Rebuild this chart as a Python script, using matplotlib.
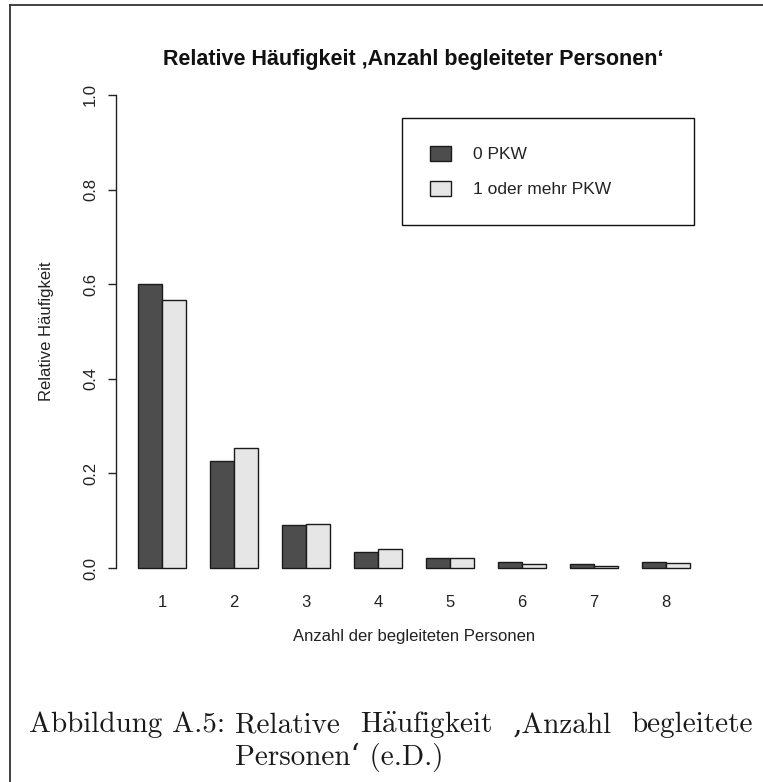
import matplotlib
matplotlib.use("Agg")
import matplotlib.pyplot as plt
from matplotlib.lines import Line2D
import numpy as np

# ---- data ----
categories = ["1", "2", "3", "4", "5", "6", "7", "8"]
pkw0 = [0.600, 0.226, 0.090, 0.033, 0.021, 0.012, 0.008, 0.012]
pkw1 = [0.566, 0.253, 0.094, 0.041, 0.021, 0.008, 0.005, 0.010]
series_names = ["0 PKW", "1 oder mehr PKW"]
yticks = [0.0, 0.2, 0.4, 0.6, 0.8, 1.0]
ytick_labels = ["0.0", "0.2", "0.4", "0.6", "0.8", "1.0"]
title = "Relative Häufigkeit \u201aAnzahl begleiteter Personen\u2018"
xlabel = "Anzahl der begleiteten Personen"
ylabel = "Relative Häufigkeit"
caption_head = "Abbildung A.5:"
caption_words1 = ["Relative", r"H$\ddot{\mathrm{a}}$ufigkeit", "\u201aAnzahl", "begleitete"]
caption_line2 = "Personen\u2018 (e.D.)"

W, H = 763, 782
plt.rcParams['font.family'] = ['Liberation Sans', 'DejaVu Sans']
plt.rcParams['mathtext.fontset'] = 'cm'

fig = plt.figure(figsize=(W / 100, H / 100), dpi=100)
fig.patch.set_facecolor("white")

def fx(x):
    return x / W

def fy(y):
    return 1 - y / H

# axes region in pixels: left 116, right 712, top 76, bottom 587
ax = fig.add_axes([fx(116), fy(587), (712 - 116) / W, (587 - 76) / H])

dark = "#4d4d4d"
light = "#e6e6e6"
n = len(categories)
idx = np.arange(n)
left0 = 1 + 3 * idx
left1 = 2 + 3 * idx
ax.bar(left0, pkw0, width=1, align='edge', color=dark, edgecolor="#1a1a1a",
       linewidth=1.0, label=series_names[0])
ax.bar(left1, pkw1, width=1, align='edge', color=light, edgecolor="#1a1a1a",
       linewidth=1.0, label=series_names[1])

ax.set_xlim(0.08, 24.92)
ax.set_ylim(-0.04, 1.04)

for s in ["top", "right", "bottom"]:
    ax.spines[s].set_visible(False)
ax.spines["left"].set_bounds(0, 1)
ax.spines["left"].set_linewidth(1.0)
ax.spines["left"].set_color("#222222")

ax.set_yticks(yticks)
ax.set_yticklabels(ytick_labels, rotation=90, va="center", fontsize=12, color="#222222")
ax.tick_params(axis="y", length=6, width=1.0, color="#222222", pad=7)

ax.set_xticks(2 + 3 * idx)
ax.set_xticklabels(categories, fontsize=12, color="#222222")
ax.tick_params(axis="x", length=0, pad=6)

ax.set_xlabel(xlabel, fontsize=12, color="#222222")
ax.xaxis.label.set_va("center")
ax.xaxis.set_label_coords(0.5, (587 - 637) / 511)
ax.set_ylabel(ylabel, fontsize=12, color="#222222")
ax.yaxis.label.set_va("center")
ax.yaxis.label.set_ha("center")
ax.yaxis.set_label_coords((47 - 116) / 596, 0.5)

fig.text(fx(413), fy(59), title, fontsize=15.5, fontweight="bold",
         ha="center", va="center", color="#111111")

leg = ax.legend(loc="upper left",
                bbox_to_anchor=(fx(402), fy(223), (694 - 402) / W, (223 - 118) / H),
                bbox_transform=fig.transFigure, mode="expand", borderaxespad=0,
                fancybox=False, edgecolor="#111111", framealpha=1,
                fontsize=12.5, borderpad=1.6, handlelength=1.2, handleheight=1.0,
                handletextpad=1.3, labelspacing=1.05)
leg.get_frame().set_linewidth(1.0)
for t in leg.get_texts():
    t.set_color("#222222")

# outer frame (page box)
fig.add_artist(Line2D([fx(10), fx(10)], [fy(5), fy(H + 5)], transform=fig.transFigure,
                      color="#333333", linewidth=1.3))
fig.add_artist(Line2D([fx(10), fx(W + 5)], [fy(5), fy(5)], transform=fig.transFigure,
                      color="#333333", linewidth=1.3))

# caption (justified first line)
cap_family = ['cmr10', 'DejaVu Serif']
cap_fs = 21
cap_color = "#1a1a1a"
fig.text(fx(29), fy(725), caption_head, fontsize=cap_fs, family=cap_family,
         ha="left", va="center", color=cap_color)
fig.canvas.draw()
renderer = fig.canvas.get_renderer()
word_texts = []
widths = []
for w in caption_words1:
    t = fig.text(0, fy(725), w, fontsize=cap_fs, family=cap_family,
                 ha="left", va="center", color=cap_color)
    word_texts.append(t)
    widths.append(t.get_window_extent(renderer).width)
x_start, x_end = 235, 753
gap = (x_end - x_start - sum(widths)) / (len(widths) - 1)
x = x_start
for t, w in zip(word_texts, widths):
    t.set_x(fx(x))
    x += w + gap
fig.text(fx(235), fy(757), caption_line2, fontsize=cap_fs, family=cap_family,
         ha="left", va="center", color=cap_color)

fig.savefig("out.png", dpi=100, facecolor="white")
